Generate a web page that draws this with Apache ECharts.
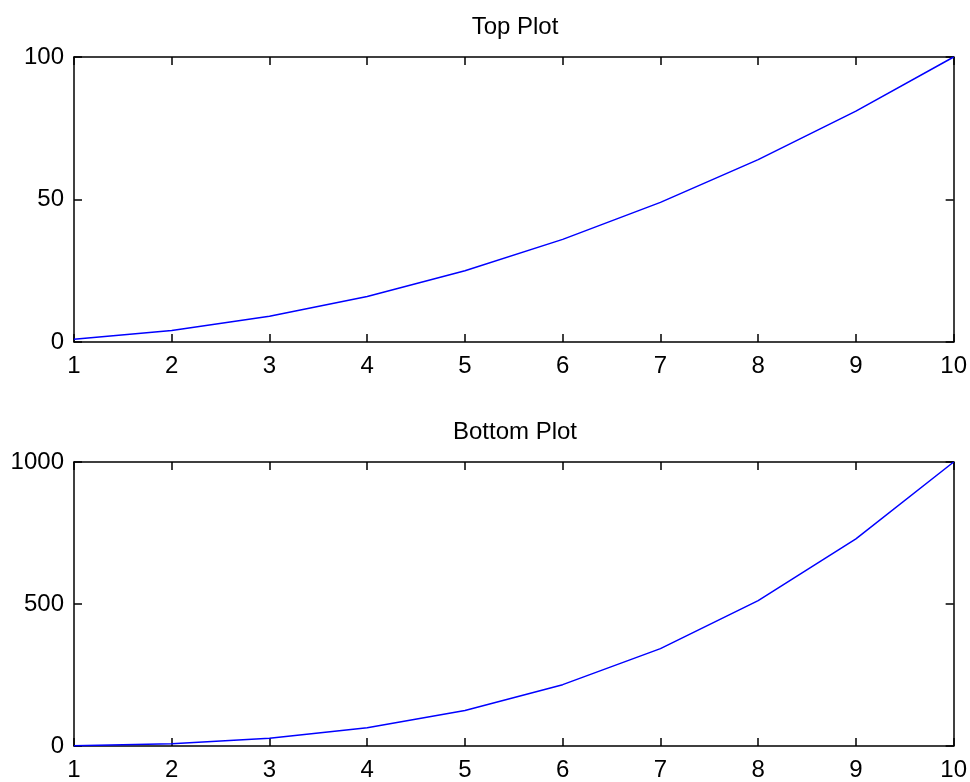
<!DOCTYPE html>
<html><head><meta charset="utf-8">
<script src="https://cdn.jsdelivr.net/npm/echarts@6/dist/echarts.min.js"></script>
<style>html,body{margin:0;padding:0;background:#fff}#c{width:970px;height:782px}</style>
</head><body><div id="c"></div>
<script>
var xValues = [1,2,3,4,5,6,7,8,9,10];
var topValues = [1,4,9,16,25,36,49,64,81,100];
var bottomValues = [1,8,27,64,125,216,343,512,729,1000];
var topTitle = 'Top Plot';
var bottomTitle = 'Bottom Plot';

var FONT = 'Liberation Sans';
var FS = 24;
var chart = echarts.init(document.getElementById('c'), null, {renderer:'canvas'});
function pairs(ys){ return xValues.map(function(x,i){return [x, ys[i]];}); }
var lineStyle = {color:'#000', width:1.5};
function plain(v){ return String(v); }
function xAx(gi, pos, showLabel){
  return {type:'value', gridIndex:gi, position:pos, min:1, max:10, interval:1,
    axisLine:{show:true, onZero:false, lineStyle:lineStyle},
    axisTick:{show:true, inside:true, length:8, lineStyle:lineStyle},
    axisLabel:{show:showLabel, color:'#000', fontFamily:FONT, fontSize:FS, margin:12, formatter:plain},
    splitLine:{show:false}};
}
function yAx(gi, pos, max, interval, showLabel){
  return {type:'value', gridIndex:gi, position:pos, min:0, max:max, interval:interval,
    axisLine:{show:true, onZero:false, lineStyle:lineStyle},
    axisTick:{show:true, inside:true, length:8, lineStyle:lineStyle},
    axisLabel:{show:showLabel, color:'#000', fontFamily:FONT, fontSize:FS, margin:10, formatter:plain},
    splitLine:{show:false}};
}
chart.setOption({
  animation:false,
  backgroundColor:'#fff',
  title:[
    {text:topTitle, left:510, top:10, textAlign:'center', textStyle:{fontFamily:FONT, fontSize:FS, fontWeight:'normal', color:'#000'}},
    {text:bottomTitle, left:510, top:415, textAlign:'center', textStyle:{fontFamily:FONT, fontSize:FS, fontWeight:'normal', color:'#000'}}
  ],
  grid:[
    {left:74, top:57, width:880, height:285},
    {left:74, top:462, width:880, height:284}
  ],
  xAxis:[xAx(0,'bottom',true), xAx(0,'top',false), xAx(1,'bottom',true), xAx(1,'top',false)],
  yAxis:[yAx(0,'left',100,50,true), yAx(0,'right',100,50,false), yAx(1,'left',1000,500,true), yAx(1,'right',1000,500,false)],
  series:[
    {type:'line', xAxisIndex:0, yAxisIndex:0, data:pairs(topValues), showSymbol:false, lineStyle:{color:'#0000ff', width:1.5}},
    {type:'line', xAxisIndex:2, yAxisIndex:2, data:pairs(bottomValues), showSymbol:false, lineStyle:{color:'#0000ff', width:1.5}}
  ]
});
</script></body></html>
